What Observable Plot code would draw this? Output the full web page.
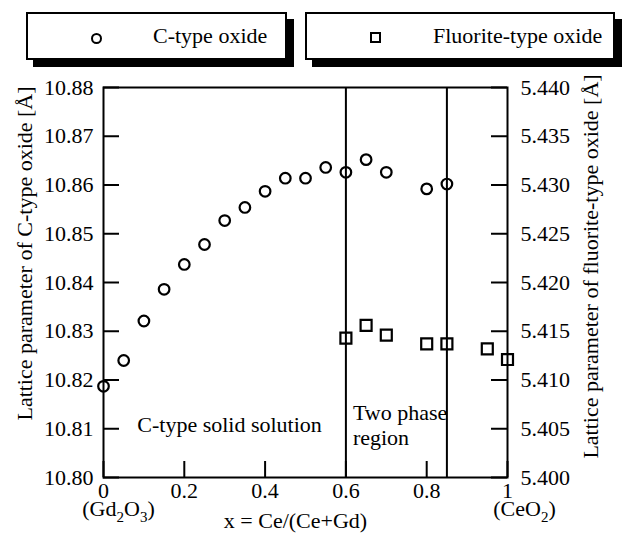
<!DOCTYPE html>
<html>
<head>
<meta charset="utf-8">
<script src="https://cdn.jsdelivr.net/npm/d3@7"></script>
<script src="https://cdn.jsdelivr.net/npm/@observablehq/plot@0.6"></script>
<style>
  body { margin: 0; background: #fff; font-family: 'Liberation Serif', 'Times New Roman', serif; color: #000; }
  #legend { position: relative; width: 626px; height: 70px; }
  .box { position: absolute; top: 12px; height: 48px; box-sizing: border-box; border: 2px solid #000; background: #fff; box-shadow: 7px 7px 0 #000; }
  .mk { position: absolute; width: 11px; height: 11px; box-sizing: border-box; border: 2.2px solid #000; }
  .lbl { position: absolute; top: 25px; font-size: 22px; line-height: 1; white-space: nowrap; }
</style>
</head>
<body>
<div id="legend">
  <div class="box" style="left:26px;width:261px;"></div>
  <div class="mk" style="left:91px;top:33px;border-radius:50%;"></div>
  <div class="lbl" id="lab1" style="left:153px;"></div>
  <div class="box" style="left:305px;width:310px;"></div>
  <div class="mk" style="left:370px;top:32px;"></div>
  <div class="lbl" id="lab2" style="left:433px;"></div>
</div>
<div id="chart"></div>
<script>
// ---- data ----
const seriesNames = ["C-type oxide", "Fluorite-type oxide"];
const xC = [0, 0.05, 0.1, 0.15, 0.2, 0.25, 0.3, 0.35, 0.4, 0.45, 0.5, 0.55, 0.6, 0.65, 0.7, 0.8, 0.85];
const aC = [10.8187, 10.8240, 10.8321, 10.8386, 10.8437, 10.8478, 10.8527, 10.8554, 10.8587, 10.8614, 10.8614, 10.8636, 10.8626, 10.8652, 10.8626, 10.8592, 10.8602];
const xF = [0.6, 0.65, 0.7, 0.8, 0.85, 0.95, 1.0];
const aF = [5.4143, 5.4156, 5.4146, 5.4137, 5.4137, 5.4132, 5.4121];
const phaseBounds = [0.6, 0.85];
const xTicks = [0, 0.2, 0.4, 0.6, 0.8, 1];
const yTicksLeft = [10.80, 10.81, 10.82, 10.83, 10.84, 10.85, 10.86, 10.87, 10.88];
const yTicksRight = [5.400, 5.405, 5.410, 5.415, 5.420, 5.425, 5.430, 5.435, 5.440];
const xTitle = "x = Ce/(Ce+Gd)";
const leftTitle = "Lattice parameter of C-type oxide [Å]";
const rightTitle = "Lattice parameter of fluorite-type oxide [Å]";
const endLabels = ["(Gd2O3)", "(CeO2)"];
const regionLabels = ["C-type solid solution", "Two phase\nregion"];

document.getElementById("lab1").textContent = seriesNames[0];
document.getElementById("lab2").textContent = seriesNames[1];

// right axis maps linearly onto the left scale
const toLeft = v => 10.80 + (v - 5.40) * 2;
const fromLeft = y => 5.40 + (y - 10.80) / 2;

const cData = xC.map((x, i) => ({x, a: aC[i]}));
const fData = xF.map((x, i) => ({x, a: toLeft(aF[i])}));

const W = 626, H = 463, mL = 103, mR = 119, mT = 17, mB = 56;
const fw = W - mL - mR, fh = H - mT - mB, tk = 16;
const mid = {textAnchor: "middle", lineAnchor: "middle"};

const chart = Plot.plot({
  width: W, height: H,
  marginLeft: mL, marginRight: mR, marginTop: mT, marginBottom: mB,
  style: {fontFamily: "'Liberation Serif', 'Times New Roman', serif", fontSize: "22px", background: "white", color: "black"},
  x: {domain: [0, 1]},
  y: {domain: [10.80, 10.88]},
  marks: [
    Plot.frame({strokeWidth: 2}),
    Plot.ruleX(phaseBounds, {strokeWidth: 2}),
    Plot.tickY(yTicksLeft, {y: d => d, insetRight: fw - tk, strokeWidth: 2}),
    Plot.tickY(yTicksRight.map(toLeft), {y: d => d, insetLeft: fw - tk, strokeWidth: 2}),
    Plot.tickX(xTicks, {x: d => d, insetTop: fh - tk, strokeWidth: 2}),
    Plot.axisY(yTicksLeft, {anchor: "left", tickSize: 0, tickPadding: 10, tickFormat: d3.format(".2f"), label: null}),
    Plot.axisY(yTicksRight.map(toLeft), {anchor: "right", tickSize: 0, tickPadding: 13, tickFormat: d => fromLeft(d).toFixed(3), label: null}),
    Plot.axisX(xTicks, {anchor: "bottom", tickSize: 0, tickPadding: 5, tickFormat: d => String(d), label: null}),
    Plot.dot(cData, {x: "x", y: "a", r: 5.3, stroke: "black", strokeWidth: 2.2, fill: "none"}),
    Plot.dot(fData, {x: "x", y: "a", symbol: "square", r: 6.2, stroke: "black", strokeWidth: 2.2, fill: "none"}),
    Plot.text([leftTitle], {frameAnchor: "left", rotate: -90, dx: -79, dy: -29, ...mid}),
    Plot.text([rightTitle], {frameAnchor: "right", rotate: -90, dx: 83, dy: -16, ...mid}),
    Plot.text([xTitle], {frameAnchor: "bottom", dx: -10, dy: 43, ...mid}),
    Plot.text([endLabels[0]], {frameAnchor: "bottom-left", dx: 15, dy: 31, ...mid}),
    Plot.text([endLabels[1]], {frameAnchor: "bottom-right", dx: 17, dy: 31, ...mid}),
    Plot.text([regionLabels[0]], {x: 0.312, y: 10.8107, ...mid}),
    Plot.text([regionLabels[1]], {x: phaseBounds[0], y: 10.8108, dx: 7, textAnchor: "start", lineAnchor: "middle", lineHeight: 1.14})
  ]
});
document.getElementById("chart").appendChild(chart);

// chemical subscripts
const subs = {"(Gd2O3)": [["(Gd", 0], ["2", 1], ["O", 0], ["3", 1], [")", 0]],
              "(CeO2)": [["(CeO", 0], ["2", 1], [")", 0]]};
d3.select(chart).selectAll("text").each(function() {
  const segs = subs[this.textContent];
  if (!segs) return;
  const t = d3.select(this);
  t.text(null);
  let prev = 0;
  segs.forEach(([s, sub]) => {
    const sp = t.append("tspan").text(s);
    const shift = sub ? 6 : 0;
    if (shift !== prev) sp.attr("dy", shift - prev);
    if (sub) sp.attr("font-size", 15);
    prev = shift;
  });
});
</script>
</body>
</html>
